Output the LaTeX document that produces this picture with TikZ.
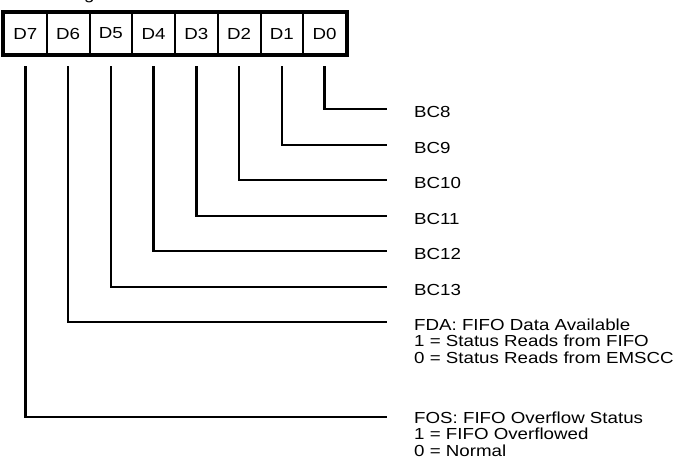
\documentclass[tikz,border=0pt]{standalone}
\usepackage{fontspec}
\setmainfont[FakeStretch=1.17]{Liberation Sans}
\begin{document}
\begin{tikzpicture}[x=1pt,y=-1pt,
  font=\fontsize{16}{16.5}\selectfont,
  cell/.style={draw, line width=2pt, minimum width=42.75pt, minimum height=41pt, inner sep=0pt, anchor=north west},
  wire/.style={line width=2.5pt},
  lab/.style={anchor=base west, inner sep=0pt, align=left}]
\useasboundingbox (0,0) rectangle (678,458);
\node[anchor=base west, inner sep=0pt] (frag) at (84,-1) {g};
\foreach \i/\t in {0/D7,1/D6,2/D5,3/D4,4/D3,5/D2,6/D1,7/D0}
  \node[cell] (c\i) at ({3+\i*42.75},12) {\t};
\draw[line width=4pt] (c0.north west) rectangle (c7.south east);
\foreach \i/\y/\t in {7/109/BC8,6/145/BC9,5/180/BC10,4/216/BC11,3/251/BC12,2/287/BC13}{
  \coordinate (e\i) at (387,\y);
  \node[lab] (l\i) at (414,\y+8) {\t};
  \draw[wire] ([yshift=-11pt]c\i.south) |- (e\i);
}
\coordinate (e1) at (387,322);
\node[lab] (l1) at (414,363) {FDA: FIFO Data Available\\1 = Status Reads from FIFO\\0 = Status Reads from EMSCC};
\draw[wire] ([yshift=-11pt]c1.south) |- (e1);
\coordinate (e0) at (387,417);
\node[lab] (l0) at (414,456) {FOS: FIFO Overflow Status\\1 = FIFO Overflowed\\0 = Normal};
\draw[wire] ([yshift=-11pt]c0.south) |- (e0);
\end{tikzpicture}
\end{document}
